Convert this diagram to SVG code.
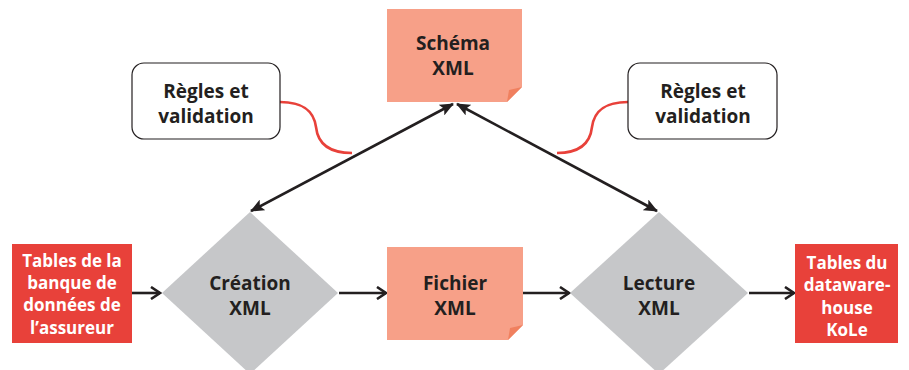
<svg xmlns="http://www.w3.org/2000/svg" width="909" height="370" viewBox="0 0 909 370">
<defs>
<style>
.t{font-family:"Open Sans","Liberation Sans",sans-serif;font-weight:bold;font-size:19px;fill:#231f20;text-anchor:middle}
.w{font-family:"Open Sans","Liberation Sans",sans-serif;font-weight:bold;font-size:17px;fill:#ffffff;text-anchor:middle}
.note{fill:#f7a088}
.flap{fill:#f0805f}
.red{fill:#e8413a}
.dia{fill:#c6c7c9}
.rule{fill:#ffffff;stroke:#231f20;stroke-width:1.2}
.ln{stroke:#231f20;stroke-width:2.6;fill:none}
.cv{stroke:#e8413a;stroke-width:2.6;fill:none}
</style>
<marker id="open" viewBox="0 0 12 14" refX="10" refY="7" markerWidth="12" markerHeight="14" markerUnits="userSpaceOnUse" orient="auto">
<path d="M1,1 L10,7 L1,13" fill="none" stroke="#231f20" stroke-width="2.6"/>
</marker>
<marker id="tri" viewBox="0 0 14 12" refX="13" refY="6" markerWidth="14" markerHeight="12" markerUnits="userSpaceOnUse" orient="auto-start-reverse">
<path d="M0,0 L14,6 L0,12 L3,6 Z" fill="#231f20"/>
</marker>
</defs>
<g id="connectors">
<path class="cv" d="M280,102 C305,102 314,112 316,127 C318,145 330,153 352,153"/>
<path class="cv" d="M628,102 C603,102 594,112 592,127 C590,145 578,153 557,153"/>
<line class="ln" x1="453" y1="104" x2="251" y2="211" marker-start="url(#tri)" marker-end="url(#tri)"/>
<line class="ln" x1="457" y1="104" x2="657" y2="211" marker-start="url(#tri)" marker-end="url(#tri)"/>
<line class="ln" x1="132" y1="293" x2="160" y2="293" marker-end="url(#open)"/>
<line class="ln" x1="339" y1="293" x2="386" y2="293" marker-end="url(#open)"/>
<line class="ln" x1="523" y1="293" x2="569" y2="293" marker-end="url(#open)"/>
<line class="ln" x1="749" y1="293" x2="794" y2="293" marker-end="url(#open)"/>
</g>
<g id="schema">
<path class="note" d="M387,9 H522 V87 L507,102 H387 Z"/>
<path class="flap" d="M522,87 L507,102 L509,90 Z"/>
<text class="t" x="453" y="50">Schéma</text>
<text class="t" x="453" y="75">XML</text>
</g>
<g id="regles-gauche">
<rect class="rule" x="132" y="63" width="148" height="76" rx="12"/>
<text class="t" x="206" y="98">Règles et</text>
<text class="t" x="206" y="123">validation</text>
</g>
<g id="regles-droite">
<rect class="rule" x="628" y="63" width="149" height="76" rx="12"/>
<text class="t" x="703" y="98">Règles et</text>
<text class="t" x="703" y="123">validation</text>
</g>
<g id="tables-assureur">
<rect class="red" x="12" y="244" width="120" height="99"/>
<text class="w" x="72" y="267">Tables de la</text>
<text class="w" x="72" y="289">banque de</text>
<text class="w" x="72" y="311">données de</text>
<text class="w" x="72" y="334">l’assureur</text>
</g>
<g id="creation">
<polygon class="dia" points="250,212 338,293 250,374 162,293"/>
<text class="t" x="250" y="290">Création</text>
<text class="t" x="250" y="315">XML</text>
</g>
<g id="fichier">
<path class="note" d="M387,247 H523 V325 L508,340 H387 Z"/>
<path class="flap" d="M523,325 L508,340 L510,328 Z"/>
<text class="t" x="455" y="290">Fichier</text>
<text class="t" x="455" y="315">XML</text>
</g>
<g id="lecture">
<polygon class="dia" points="659,212 748,293 659,374 570,293"/>
<text class="t" x="659" y="290">Lecture</text>
<text class="t" x="659" y="315">XML</text>
</g>
<g id="tables-kole">
<rect class="red" x="795" y="244" width="103" height="99"/>
<text class="w" x="847" y="269">Tables du</text>
<text class="w" x="847" y="291">dataware-</text>
<text class="w" x="847" y="314">house</text>
<text class="w" x="847" y="336">KoLe</text>
</g>
</svg>
